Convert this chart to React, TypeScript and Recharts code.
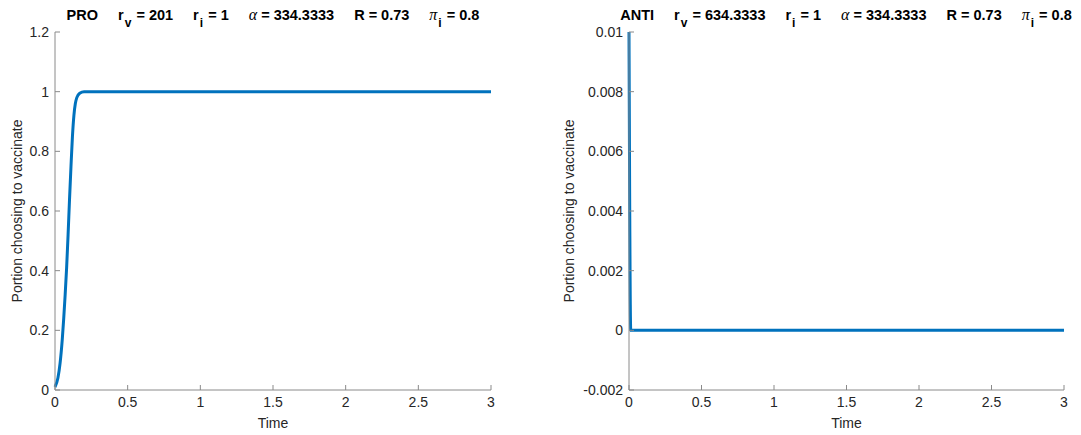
import React from "react";
import { LineChart, Line, XAxis, YAxis, Label } from "recharts";

// PRO run: portion choosing to vaccinate over time
const proTime = [0, 0.02, 0.035, 0.05, 0.06, 0.07, 0.08, 0.09, 0.1, 0.11, 0.12, 0.13, 0.14, 0.15, 0.17, 0.2, 0.25, 0.5, 1, 1.5, 2, 2.5, 3];
const proValue = [0.01, 0.04, 0.09, 0.17, 0.24, 0.32, 0.41, 0.52, 0.64, 0.75, 0.85, 0.92, 0.96, 0.98, 0.995, 1, 1, 1, 1, 1, 1, 1, 1];

// ANTI run
const antiTime = [0, 0.012, 0.05, 0.5, 1, 1.5, 2, 2.5, 3];
const antiValue = [0.01, 0, 0, 0, 0, 0, 0, 0, 0];

const timeTicks = [0, 0.5, 1, 1.5, 2, 2.5, 3];
const proTicks = [0, 0.2, 0.4, 0.6, 0.8, 1, 1.2];
const antiTicks = [-0.002, 0, 0.002, 0.004, 0.006, 0.008, 0.01];

const proData = proTime.map((t, i) => ({ t, v: proValue[i] }));
const antiData = antiTime.map((t, i) => ({ t, v: antiValue[i] }));

const FONT = "'Liberation Sans', Arial, sans-serif";
const AXIS = "#8a8a8a";
const TXT = "#262626";
const BLUE = "#0072BD";

const tickStyle = { fontSize: 14, fill: TXT, fontFamily: FONT };

const fmt = (v: number) => String(Number(v.toFixed(6)));

interface PanelProps {
  data: { t: number; v: number }[];
  yTicks: number[];
  yDomain: [number, number];
  yAxisWidth: number;
  margin: { top: number; right: number; bottom: number; left: number };
  labelOffset: number;
  width: number;
}

const Panel: React.FC<PanelProps> = ({ data, yTicks, yDomain, yAxisWidth, margin, labelOffset, width }) => (
  <LineChart width={width} height={435} data={data} margin={margin}>
    <XAxis
      xAxisId="b"
      dataKey="t"
      type="number"
      domain={[0, 3]}
      ticks={timeTicks}
      height={30}
      tickSize={-5}
      tickMargin={12}
      stroke={AXIS}
      tick={tickStyle}
      tickFormatter={fmt}
    >
      <Label value="Time" position="insideBottom" offset={-8} style={{ fontSize: 14, fill: TXT, fontFamily: FONT }} />
    </XAxis>
    <XAxis xAxisId="t" orientation="top" dataKey="t" type="number" domain={[0, 3]} ticks={timeTicks} height={0} tickSize={-5} tick={false} stroke={AXIS} />
    <YAxis
      yAxisId="l"
      type="number"
      domain={yDomain}
      ticks={yTicks}
      width={yAxisWidth}
      tickSize={-5}
      tickMargin={11}
      stroke={AXIS}
      tick={tickStyle}
      tickFormatter={fmt}
      allowDataOverflow
    >
      <Label
        value="Portion choosing to vaccinate"
        angle={-90}
        position="insideLeft"
        offset={labelOffset}
        style={{ fontSize: 14, fill: TXT, fontFamily: FONT, textAnchor: "middle" }}
      />
    </YAxis>
    <YAxis yAxisId="r" orientation="right" type="number" domain={yDomain} ticks={yTicks} width={0} tickSize={-5} tick={false} stroke={AXIS} allowDataOverflow />
    <Line
      xAxisId="b"
      yAxisId="l"
      dataKey="v"
      type="monotone"
      stroke={BLUE}
      strokeWidth={3}
      dot={false}
      isAnimationActive={false}
    />
  </LineChart>
);

const sub: React.CSSProperties = { fontSize: 12, verticalAlign: -7, marginLeft: 1, marginRight: 1 };
const greek: React.CSSProperties = { fontFamily: "'Liberation Serif', serif", fontStyle: "italic", fontWeight: "normal", fontSize: 16 };
const gap: React.CSSProperties = { display: "inline-block", width: 20 };

// title centred on the plot area, allowed to spill past it on both sides
const Title: React.FC<{ name: string; rv: string; center: number }> = ({ name, rv, center }) => (
  <div
    style={{
      position: "absolute",
      left: center,
      top: 6,
      transform: "translateX(-50%)",
      whiteSpace: "nowrap",
      fontFamily: FONT,
      fontWeight: "bold",
      fontSize: 14.5,
      lineHeight: "18px",
      color: "#000",
    }}
  >
    {name}
    <span style={gap} />r<span style={sub}>v</span> = {rv}
    <span style={gap} />r<span style={sub}>i</span> = 1
    <span style={gap} /><span style={greek}>α</span> = 334.3333
    <span style={gap} />R = 0.73
    <span style={gap} /><span style={greek}>π</span><span style={sub}>i</span> = 0.8
  </div>
);

export default function App() {
  return (
    <div style={{ position: "absolute", left: 0, top: 0, width: 1081, height: 435, background: "#fff", overflow: "hidden" }}>
      <div style={{ position: "absolute", left: 0, top: 0 }}>
        <Panel
          data={proData}
          yTicks={proTicks}
          yDomain={[0, 1.2]}
          yAxisWidth={45}
          margin={{ top: 32, right: 49, bottom: 15, left: 10 }}
          labelOffset={7}
          width={540}
        />
      </div>
      <div style={{ position: "absolute", left: 540, top: 0 }}>
        <Panel
          data={antiData}
          yTicks={antiTicks}
          yDomain={[-0.002, 0.01]}
          yAxisWidth={60}
          margin={{ top: 32, right: 17, bottom: 15, left: 29 }}
          labelOffset={0}
          width={541}
        />
      </div>
      <Title name="PRO" rv="201" center={273} />
      <Title name="ANTI" rv="634.3333" center={846} />
    </div>
  );
}
